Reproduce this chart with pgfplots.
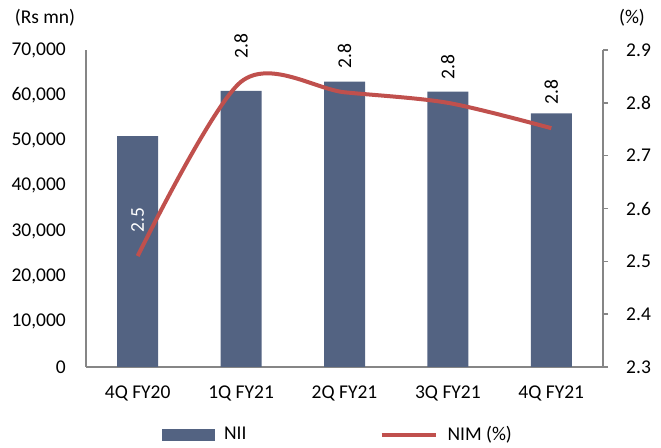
\documentclass[border=0pt]{standalone}
\usepackage{pgfplots}
\pgfplotsset{compat=1.18}
\usepackage{pgfplotstable}
\usepackage{fontspec}
\setmainfont{Carlito}
\definecolor{barblue}{RGB}{83,99,130}
\definecolor{nimred}{RGB}{192,80,77}
\definecolor{axgray}{RGB}{134,134,134}
\newcommand\W[1]{\textcolor{white}{#1}}
\newcommand\B[1]{\textcolor{black}{#1}}

\pgfplotstableread{
x nii
0 51000
1 61000
2 63000
3 60800
4 56000
}\niidata
\pgfplotstableread{
x nim lab
0 2.51 \W{2.5}
1 2.84 \B{2.8}
2 2.82 \B{2.8}
3 2.80 \B{2.8}
4 2.752 \B{2.8}
}\nimdata

\begin{document}
\fontsize{19.5}{23}\selectfont
\begin{tikzpicture}[x=1pt,y=1pt]
\useasboundingbox (0,0) rectangle (661,447);
\pgfplotsset{
  base/.style={
    scale only axis, width=517pt, height=317pt,
    at={(86pt,80pt)}, anchor=south west,
    xmin=-0.5, xmax=4.5,
    /pgf/number format/assume math mode=true,
    tick label style={font=\fontsize{19.5}{23}\selectfont, inner sep=0pt},
    axis line style={axgray, line width=1.5pt, -},
    tick style={axgray, line width=1.5pt},
  }
}
\begin{axis}[base,
  axis x line*=bottom, axis y line*=left,
  ymin=0, ymax=70000, ytick={0,10000,20000,30000,40000,50000,60000,70000},
  scaled y ticks=false,
  major tick length=0pt,
  yticklabel style={anchor=east, xshift=-20pt, /pgf/number format/1000 sep={,}},
  xtick={0,1,2,3,4},
  xticklabels={4Q FY20,1Q FY21,2Q FY21,3Q FY21,4Q FY21},
  xticklabel style={anchor=base, yshift=-32pt},
  ybar, bar width=41pt,
]
\addplot[fill=barblue, draw=none] table[x=x,y=nii]{\niidata};
\end{axis}
\begin{axis}[base,
  axis y line*=right, axis x line=none,
  ymin=2.3, ymax=2.9, ytick={2.3,2.4,2.5,2.6,2.7,2.8,2.9},
  yticklabel style={anchor=west, xshift=18pt, /pgf/number format/fixed, /pgf/number format/fixed zerofill, /pgf/number format/precision=1},
  tick align=outside, major tick length=5pt,
  legend style={at={(0.487,-0.2145)}, anchor=center, draw=none, fill=none,
    font=\fontsize{19.5}{23}\selectfont, legend columns=2,
    /tikz/every odd column/.append style={column sep=8pt},
    /tikz/every even column/.append style={column sep=131pt}},
  legend cell align=left,
]
\addlegendimage{legend image code/.code={\draw[barblue, fill=barblue] (0pt,-5.5pt) rectangle (52pt,5.5pt);}}
\addlegendentry{NII}
\addplot[nimred, line width=4pt, smooth, tension=0.5,
  legend image code/.code={\draw[nimred, line width=4pt] (0pt,0pt) -- (54pt,0pt);},
  point meta=explicit symbolic,
  nodes near coords={\pgfplotspointmeta},
  every node near coord/.append style={font=\fontsize{19.5}{23}\selectfont, anchor=center, yshift=36pt, rotate=90},
] table[x=x,y=nim,meta=lab]{\nimdata};
\addlegendentry{NIM (\%)}
\end{axis}
\node at (45,429) {(Rs mn)};
\node at (632,429) {(\%)};
\end{tikzpicture}
\end{document}
